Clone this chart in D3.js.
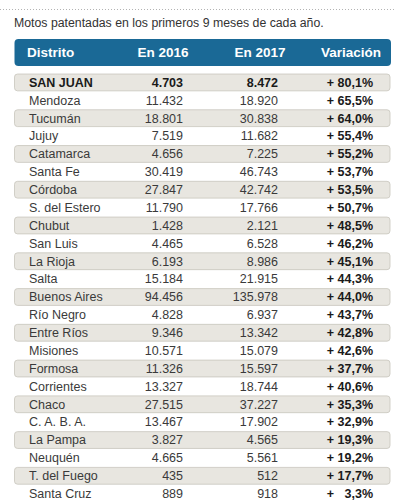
<!DOCTYPE html>
<html lang="es">
<head>
<meta charset="UTF-8">
<title>Motos patentadas</title>
<style>
  body { margin: 0; background: #fff; }
  svg { display: block; font-family: "Liberation Sans", Arial, sans-serif; }
</style>
</head>
<body>
<div id="tabla"></div>
<script src="https://d3js.org/d3.v7.min.js"></script>
<script>
// Datos
const distritos = ["SAN JUAN", "Mendoza", "Tucumán", "Jujuy", "Catamarca", "Santa Fe", "Córdoba",
  "S. del Estero", "Chubut", "San Luis", "La Rioja", "Salta", "Buenos Aires", "Río Negro",
  "Entre Ríos", "Misiones", "Formosa", "Corrientes", "Chaco", "C. A. B. A.", "La Pampa",
  "Neuquén", "T. del Fuego", "Santa Cruz"];
const en2016 = [4703, 11432, 18801, 7519, 4656, 30419, 27847, 11790, 1428, 4465, 6193, 15184,
  94456, 4828, 9346, 10571, 11326, 13327, 27515, 13467, 3827, 4665, 435, 889];
const en2017 = [8472, 18920, 30838, 11682, 7225, 46743, 42742, 17766, 2121, 6528, 8986, 21915,
  135978, 6937, 13342, 15079, 15597, 18744, 37227, 17902, 4565, 5561, 512, 918];
const variacion = [80.1, 65.5, 64.0, 55.4, 55.2, 53.7, 53.5, 50.7, 48.5, 46.2, 45.1, 44.3,
  44.0, 43.7, 42.8, 42.6, 37.7, 40.6, 35.3, 32.9, 19.3, 19.2, 17.7, 3.3];
const encabezados = ["Distrito", "En 2016", "En 2017", "Variación"];

const W = 400, H = 500;
const es = d3.formatLocale({ decimal: ",", thousands: ".", grouping: [3], currency: ["$", ""] });
const fmtNum = es.format(",d");
const fmtVar = v => "+ " + (v < 10 ? "\u2007" : "") + es.format(".1f")(v) + "%";

const svg = d3.select("#tabla").append("svg")
  .attr("width", W).attr("height", H);

// línea punteada superior
svg.append("line")
  .attr("x1", 0).attr("x2", 396).attr("y1", 9.5).attr("y2", 9.5)
  .attr("stroke", "#a0a0a0").attr("stroke-width", 0.8)
  .attr("stroke-dasharray", "1,2");

svg.append("text")
  .attr("x", 14).attr("y", 27)
  .attr("font-size", 12.3).attr("fill", "#333")
  .text("Motos patentadas en los primeros 9 meses de cada año.");

// encabezado
const left = 14.5, right = 391;
svg.append("rect")
  .attr("x", left).attr("y", 39).attr("width", right - left).attr("height", 27)
  .attr("rx", 4).attr("fill", "#1a6996");

// columnas: [x, anchor]
const colsHead = [[27, "start"], [163, "middle"], [260, "middle"], [381, "end"]];
svg.selectAll("text.head").data(encabezados).enter().append("text")
  .attr("class", "head")
  .attr("x", (d, i) => colsHead[i][0])
  .attr("y", 57)
  .attr("text-anchor", (d, i) => colsHead[i][1])
  .attr("font-size", 13.5).attr("font-weight", "bold").attr("fill", "#fff")
  .text(d => d);

// filas
const y = d3.scaleBand()
  .domain(distritos)
  .range([73.5, 73.5 + 17.88 * distritos.length])
  .paddingInner(0.06).paddingOuter(0.03);

const filas = distritos.map((d, i) => ({ d, a: en2016[i], b: en2017[i], v: variacion[i], i }));

const g = svg.append("g");
g.selectAll("rect.fila").data(filas.filter(r => r.i % 2 === 0)).enter().append("rect")
  .attr("class", "fila")
  .attr("x", left).attr("width", right - left - 1)
  .attr("y", r => y(r.d)).attr("height", y.bandwidth())
  .attr("rx", 3)
  .attr("fill", "#e8e6e0").attr("stroke", "#c8c5bc").attr("stroke-width", 0.8);

const fila = g.selectAll("g.f").data(filas).enter().append("g")
  .attr("class", "f")
  .attr("transform", r => `translate(0,${y(r.d) + y.bandwidth() / 2 + 4.3})`)
  .attr("font-size", 12.5)
  .attr("fill", r => r.i === 0 ? "#1a1a1a" : "#3a3a3a")
  .attr("font-weight", r => r.i === 0 ? "bold" : "normal");

fila.append("text").attr("x", 29).text(r => r.d);
fila.append("text").attr("x", 183).attr("text-anchor", "end").text(r => fmtNum(r.a));
fila.append("text").attr("x", 278).attr("text-anchor", "end").text(r => fmtNum(r.b));
fila.append("text").attr("x", 373).attr("text-anchor", "end")
  .attr("font-weight", "bold").attr("fill", "#1a1a1a")
  .text(r => fmtVar(r.v));
</script>
</body>
</html>
